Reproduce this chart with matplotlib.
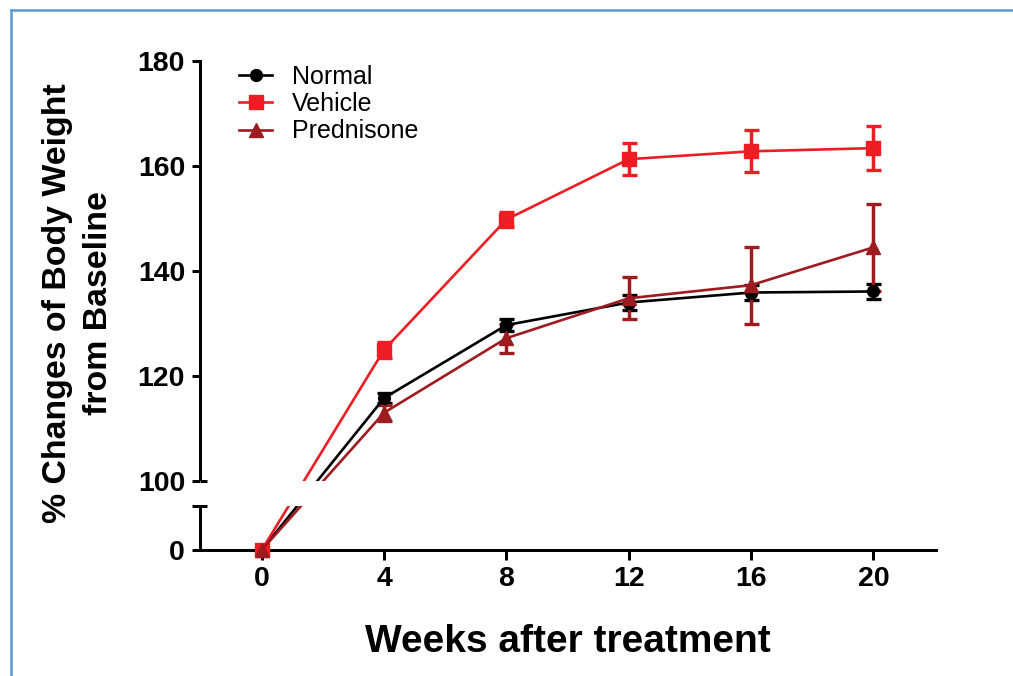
import numpy as np
import matplotlib
matplotlib.use("Agg")
import matplotlib.pyplot as plt
from matplotlib.lines import Line2D

plt.rcParams['font.family'] = ['Liberation Sans', 'DejaVu Sans']

# ---- data ----
weeks = [0, 4, 8, 12, 16, 20]
series_names = ["Normal", "Vehicle", "Prednisone"]
normal_mean = [0, 115.8, 129.7, 134.0, 135.9, 136.1]
normal_err = [np.nan, 1.0, 1.2, 1.5, 1.4, 1.4]
vehicle_mean = [0, 125.0, 149.8, 161.3, 162.8, 163.4]
vehicle_err = [np.nan, 1.5, 1.5, 3.1, 4.0, 4.2]
pred_mean = [0, 113.0, 127.2, 134.8, 137.3, 144.5]
pred_err = [np.nan, 1.5, 2.8, 4.0, 7.3, 8.3]
yticks = [0, 100, 120, 140, 160, 180]
xticks = [0, 4, 8, 12, 16, 20]

# ---- broken-axis scale (piecewise linear) ----
BREAK_LO = 10    # top of lower segment
BREAK_HI = 100   # bottom of upper segment
_ys = np.array([-1000.0, 0.0, BREAK_LO, BREAK_HI, 1000.0])
_zs = np.array([-4450.0, 0.0, 44.5, 69.0, 69.0 + 900 * 5.25])

def fwd(y):
    return np.interp(y, _ys, _zs)

def inv(z):
    return np.interp(z, _zs, _ys)

W, H = 1013, 676
fig = plt.figure(figsize=(W / 100, H / 100), dpi=100)
ax = fig.add_axes([200 / W, 126 / H, 735.7 / W, 489 / H])
ax.set_yscale('function', functions=(fwd, inv))
ax.set_xlim(-2.02, 22.04)
ax.set_ylim(0, 180)

lw_axis = 2.16
colors = ['#000000', '#EE1D23', '#9E1B20']
markers = ['o', 's', '^']
msizes = [8.5, 10.5, 10.5]
means = [normal_mean, vehicle_mean, pred_mean]
errs = [normal_err, vehicle_err, pred_err]

handles = []
for name, m, e, c, mk, ms in zip(series_names, means, errs, colors, markers, msizes):
    cont = ax.errorbar(weeks, m, yerr=e, fmt='-', marker=mk, ms=ms, color=c,
                       lw=1.9, elinewidth=2.5, capsize=5.4, capthick=2.4,
                       clip_on=False, zorder=3)
    for art in cont.lines[1] + cont.lines[2]:
        art.set_clip_on(False)
    handles.append(cont[0])

# white gap of the broken axis
ax.axhspan(BREAK_LO, BREAK_HI, color='white', lw=0, zorder=4)

# spines
for s in ['top', 'right']:
    ax.spines[s].set_visible(False)
ax.spines['left'].set_bounds(BREAK_HI, 180)
ax.spines['left'].set_linewidth(lw_axis)
ax.spines['bottom'].set_linewidth(lw_axis)

yt = ax.get_yaxis_transform()
ax.plot([0, 0], [0, BREAK_LO], transform=yt, color='k', lw=lw_axis,
        clip_on=False, zorder=5, solid_capstyle='butt')
ax.plot([-0.0109, 0.0095], [BREAK_LO, BREAK_LO], transform=yt, color='k',
        lw=lw_axis, clip_on=False, zorder=5, solid_capstyle='butt')
ax.plot([0, 0.0095], [BREAK_HI, BREAK_HI], transform=yt, color='k',
        lw=lw_axis, clip_on=False, zorder=5, solid_capstyle='butt')

ax.set_xticks(xticks)
ax.set_yticks(yticks)
ax.set_xticklabels([str(v) for v in xticks])
ax.set_yticklabels([str(v) for v in yticks])
ax.tick_params(axis='y', length=5.8, width=lw_axis, pad=5, labelsize=20.5)
ax.tick_params(axis='x', length=7.2, width=lw_axis, pad=4.5, labelsize=20.5)
for lab in ax.get_xticklabels() + ax.get_yticklabels():
    lab.set_fontweight('bold')
ax.minorticks_off()

ax.legend(handles, series_names, loc='upper left', bbox_to_anchor=(0.053, 0.992),
          frameon=False, borderpad=0, borderaxespad=0, handlelength=1.33,
          handletextpad=0.8, labelspacing=0.13, numpoints=1, fontsize=18)

fig.text(567.8 / W, (676 - 652) / H, "Weeks after treatment", ha='center',
         va='baseline', fontsize=28, fontweight='bold')
fig.text(78 / W, (676 - 303) / H, "% Changes of Body Weight\nfrom Baseline",
         rotation=90, ha='center', va='center', multialignment='center',
         fontsize=24.4, fontweight='bold', linespacing=1.38)

# light blue frame
frame_kw = dict(color='#5B9BD5', lw=1.8, transform=fig.transFigure)
fig.add_artist(Line2D([11 / W, 11 / W], [0, (676 - 10) / H], **frame_kw))
fig.add_artist(Line2D([11 / W, 1], [(676 - 10) / H, (676 - 10) / H], **frame_kw))

fig.savefig("out.png", dpi=100)
